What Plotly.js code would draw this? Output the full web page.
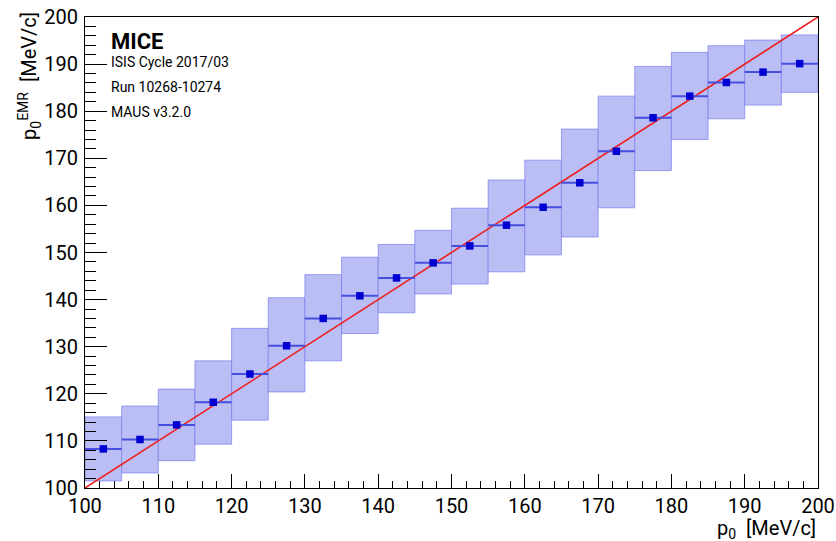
<!DOCTYPE html>
<html>
<head>
<meta charset="utf-8">
<script src="https://cdn.plot.ly/plotly-3.0.1.min.js"></script>
<style>html,body{margin:0;padding:0;background:#fff}#chart{width:836px;height:541px}</style>
</head>
<body>
<div id="chart"></div>
<script>
// bin centres of p0 [MeV/c]
const binCentres = [102.5,107.5,112.5,117.5,122.5,127.5,132.5,137.5,142.5,147.5,152.5,157.5,162.5,167.5,172.5,177.5,182.5,187.5,192.5,197.5];
const binHalfWidth = [2.5,2.5,2.5,2.5,2.5,2.5,2.5,2.5,2.5,2.5,2.5,2.5,2.5,2.5,2.5,2.5,2.5,2.5,2.5,2.5];
// mean EMR momentum per bin
const meanEMR = [108.3,110.3,113.4,118.2,124.2,130.2,136.0,140.8,144.6,147.8,151.4,155.8,159.6,164.8,171.5,178.6,183.2,186.1,188.3,190.1];
// band lower / upper edges
const bandLow  = [101.5,103.2,105.8,109.3,114.4,120.4,127.0,132.8,137.2,141.2,143.3,145.9,149.5,153.3,159.5,167.4,174.0,178.4,181.3,184.0];
const bandHigh = [115.1,117.4,121.0,127.0,133.9,140.4,145.3,149.0,151.7,154.7,159.4,165.4,169.6,176.2,183.2,189.5,192.5,193.9,195.1,196.2];
// reference line p0^EMR = p0
const diagX = [100,200];
const diagY = [100,200];

const FONT = 'Roboto, "Liberation Sans", Arial, sans-serif';

const traces = [
  {
    type: 'bar',
    x: binCentres,
    base: bandLow,
    y: bandHigh.map((h,i)=>h-bandLow[i]),
    width: binHalfWidth.map(w=>2*w),
    marker: {color: 'rgb(186,190,244)', line: {color: 'rgba(120,126,236,0.7)', width: 1}},
    hoverinfo: 'skip',
    showlegend: false
  },
  {
    type: 'scatter', mode: 'lines',
    x: diagX, y: diagY,
    line: {color: 'rgb(240,30,30)', width: 1.6},
    showlegend: false
  },
  {
    type: 'scatter', mode: 'markers',
    x: binCentres, y: meanEMR,
    error_x: {type: 'data', array: binHalfWidth, symmetric: true, width: 0, thickness: 2, color: 'rgb(70,78,222)'},
    marker: {symbol: 'square', size: 7.5, color: 'rgb(0,0,210)'},
    showlegend: false
  }
];

const layout = {
  width: 836, height: 541,
  margin: {l: 85, r: 18, t: 17, b: 53},
  paper_bgcolor: '#fff', plot_bgcolor: '#fff',
  font: {family: FONT, color: '#000'},
  bargap: 0,
  xaxis: {
    range: [100,200], dtick: 10, tick0: 100,
    ticks: 'inside', ticklen: 14, tickwidth: 1, tickcolor: '#000',
    minor: {dtick: 2, ticks: 'inside', ticklen: 7, tickcolor: '#000', showgrid: false},
    showgrid: false, zeroline: false,
    showline: true, linecolor: '#000', linewidth: 1, mirror: true,
    tickfont: {size: 20, family: FONT}
  },
  yaxis: {
    range: [100,200], dtick: 10, tick0: 100,
    ticks: 'inside', ticklen: 22, tickwidth: 1, tickcolor: '#000',
    minor: {dtick: 2, ticks: 'inside', ticklen: 11, tickcolor: '#000', showgrid: false},
    showgrid: false, zeroline: false,
    showline: true, linecolor: '#000', linewidth: 1, mirror: true,
    tickfont: {size: 20, family: FONT}, ticklabelstandoff: 2
  },
  annotations: [
    {xref:'paper', yref:'paper', x:0.033, y:0.949, xanchor:'left', yanchor:'middle', showarrow:false,
     text:'<b>MICE</b>', font:{size:22, family:FONT}},
    {xref:'paper', yref:'paper', x:0.033, y:0.904, xanchor:'left', yanchor:'middle', showarrow:false,
     text:'ISIS Cycle 2017/03', font:{size:14, family:FONT}},
    {xref:'paper', yref:'paper', x:0.033, y:0.851, xanchor:'left', yanchor:'middle', showarrow:false,
     text:'Run 10268-10274', font:{size:14, family:FONT}},
    {xref:'paper', yref:'paper', x:0.033, y:0.799, xanchor:'left', yanchor:'middle', showarrow:false,
     text:'MAUS v3.2.0', font:{size:14, family:FONT}},
    {xref:'paper', yref:'paper', x:1, y:-0.055, xanchor:'right', yanchor:'top', showarrow:false,
     text:'p<sub>0</sub>  [MeV/c]', font:{size:20, family:FONT}},
    {xref:'paper', yref:'paper', x:-0.075, y:1.015, xanchor:'center', yanchor:'top', showarrow:false, textangle:-90,
     text:'p<sub>0</sub><sup>EMR</sup>  [MeV/c]', font:{size:20, family:FONT}}
  ]
};

Plotly.newPlot('chart', traces, layout, {staticPlot: true, displayModeBar: false});
</script>
</body>
</html>
